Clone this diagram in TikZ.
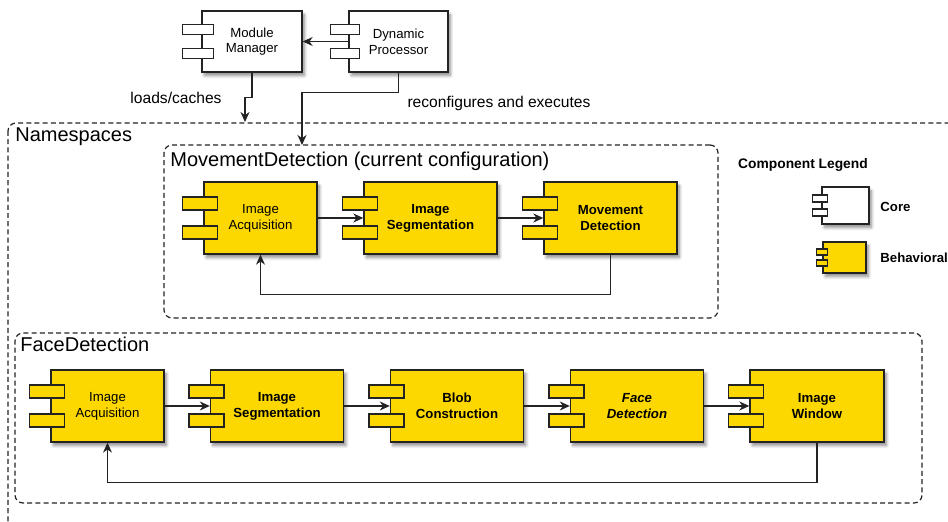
\documentclass[tikz,border=0pt]{standalone}
\usepackage{fontspec}
\setmainfont{Liberation Sans}
\usetikzlibrary{calc,arrows.meta,shadows.blur,fit}
\definecolor{compyellow}{RGB}{252,216,0}
\definecolor{compline}{RGB}{35,35,35}
% two little tabs on the left side of a component box
% #1 node, #2 reach left of box, #3 tab width, #4 tab height, #5 offset from centre, #6 fill
\newcommand{\comptabs}[6]{%
	\foreach \s in {-1,1}
		\draw[tab, fill=#6] ($(#1.west)+(-#2,\s*#5-#4/2)$) rectangle ++(#3,#4);
}
\tikzset{
	box shadow/.style={blur shadow={shadow xshift=1.2pt, shadow yshift=-1.8pt,
		shadow blur radius=1.5pt, shadow blur steps=6, shadow opacity=45}},
	comp/.style={draw=compline, line width=0.7pt, fill=compyellow, minimum height=36pt,
		minimum width=66.5pt, align=center, inner sep=1pt, box shadow,
		font=\fontsize{6.6}{7.9}\selectfont\bfseries},
	comp plain/.style={comp, font=\fontsize{6.6}{7.9}\selectfont},
	core/.style={comp plain, fill=white, minimum width=50pt, minimum height=30.5pt},
	tab/.style={draw=compline, line width=0.7pt},
	group/.style={draw=compline, line width=0.6pt, dash pattern=on 2.5pt off 1.6pt,
		rounded corners=4pt, inner sep=0pt},
	title/.style={inner sep=0pt, font=\fontsize{10}{12}\selectfont},
	lbl/.style={inner sep=0pt, font=\fontsize{7.8}{9}\selectfont},
	legend/.style={inner sep=0pt, font=\fontsize{6.6}{8}\selectfont\bfseries},
	flow/.style={draw=compline, line width=0.55pt, -{Stealth[length=5pt, width=4.5pt, inset=1.6pt]}}
}

\begin{document}
\begin{tikzpicture}[x=0.5pt, y=-0.5pt]
	%%%%% START %%%%%
	\useasboundingbox (0,0) rectangle (948,522);
	\clip (0,0) rectangle (948,522);

	% core components
	\node[core] (mm) at (252,41.5) {Module\\Manager};
	\comptabs{mm}{19}{31}{10}{12}{white}
	\node[core, minimum width=49.5pt] (dp) at (398.5,41.5) {Dynamic\\Processor};
	\comptabs{dp}{18}{29}{10}{12}{white}

	% namespaces
	\draw[group] (8,123) rectangle (990,560);
	\node[title, anchor=base west] (nsTitle) at (15,142) {Namespaces};

	% movement detection
	\node[group, fit={(164,145) (718,318)}] (mdSpace) {};
	\node[title, anchor=base west] (mdTitle) at (170,167) {MovementDetection (current configuration)};
	\node[comp plain, minimum width=56.5pt] (mdAcq) at (260.5,218) {Image\\Acquisition};
	\comptabs{mdAcq}{21}{35}{13}{14.5}{compyellow}
	\node[comp] (mdSeg) at (430.5,218) {Image\\Segmentation};
	\comptabs{mdSeg}{21}{35}{13}{14.5}{compyellow}
	\node[comp] (mdDet) at (610.5,218) {Movement\\Detection};
	\comptabs{mdDet}{21}{35}{13}{14.5}{compyellow}

	% face detection
	\node[group, fit={(15,333) (922,503)}] (fdSpace) {};
	\node[title, anchor=base west] (fdTitle) at (20,352) {FaceDetection};
	\node[comp plain, minimum width=56.5pt] (fdAcq) at (107.5,406) {Image\\Acquisition};
	\comptabs{fdAcq}{21}{35}{13}{14.5}{compyellow}
	\node[comp] (fdSeg) at (277,406) {Image\\Segmentation};
	\comptabs{fdSeg}{21}{35}{13}{14.5}{compyellow}
	\node[comp] (fdBlob) at (457,406) {Blob\\Construction};
	\comptabs{fdBlob}{21}{35}{13}{14.5}{compyellow}
	\node[comp, font=\fontsize{6.6}{7.9}\selectfont\bfseries\itshape] (fdFace) at (637,406) {Face\\Detection};
	\comptabs{fdFace}{21}{35}{13}{14.5}{compyellow}
	\node[comp, minimum width=67pt] (fdWin) at (817,406) {Image\\Window};
	\comptabs{fdWin}{21}{35}{13}{14.5}{compyellow}

	% legend
	\node[legend, font=\fontsize{6.9}{8}\selectfont\bfseries] (lgTitle) at (803,165) {Component Legend};
	\node[core, minimum width=23.5pt, minimum height=18.5pt] (lgCore) at (845.5,205.5) {};
	\comptabs{lgCore}{9}{15}{7}{7}{white}
	\node[comp, minimum width=21.5pt, minimum height=15.5pt] (lgBeh) at (844.5,257.5) {};
	\comptabs{lgBeh}{6}{11}{6}{5.5}{compyellow}
	\node[legend, anchor=west] (lgCoreTxt) at (880,207) {Core};
	\node[legend, anchor=west] (lgBehTxt) at (880,258) {Behavioral};

	% connectors
	\coordinate (nsIn) at (245,122);
	\coordinate (mdIn) at (302,145);
	\draw[flow] (dp.west) -- (mm.east);
	\draw[flow] (mm.south) -- ++(0,25) -| (nsIn);
	\draw[flow] (dp.south) -- ++(0,20) -| (mdIn);
	\node[lbl] (loadsLbl) at (176,98) {loads/caches};
	\node[lbl] (reconfLbl) at (499,103) {reconfigures and executes};

	\draw[flow] (mdAcq) -- (mdSeg);
	\draw[flow] (mdSeg) -- (mdDet);
	\draw[flow] (mdDet.south) -- ++(0,40) -| (mdAcq.south);

	\draw[flow] (fdAcq) -- (fdSeg);
	\draw[flow] (fdSeg) -- (fdBlob);
	\draw[flow] (fdBlob) -- (fdFace);
	\draw[flow] (fdFace) -- (fdWin);
	\draw[flow] (fdWin.south) -- ++(0,40) -| (fdAcq.south);
	%%%%% END %%%%%
\end{tikzpicture}
\end{document}
